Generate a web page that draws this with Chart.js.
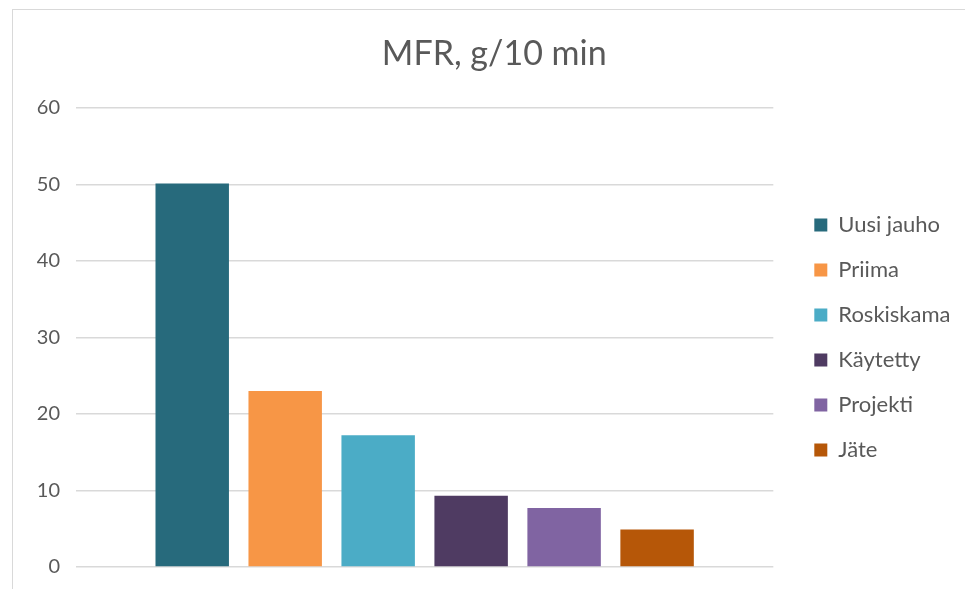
<!DOCTYPE html>
<html>
<head>
<meta charset="utf-8">
<script src="https://cdn.jsdelivr.net/npm/chart.js@4"></script>
<style>
    html, body { margin: 0; padding: 0; background: #fff; overflow: hidden; }
    #frame {
        position: absolute; left: 12px; top: 9px; width: 1000px; height: 700px;
        border-left: 1px solid #d9d9d9; border-top: 1px solid #d9d9d9;
    }
    #mfrChart { position: absolute; left: 0; top: 0; }
</style>
</head>
<body>
<div id="frame"></div>
<canvas id="mfrChart" width="965" height="589"></canvas>
<script>
// MFR chart data
const categories = [''];
const seriesNames = ['Uusi jauho', 'Priima', 'Roskiskama', 'Käytetty', 'Projekti', 'Jäte'];
const seriesValues = [50.1, 23.0, 17.2, 9.3, 7.7, 4.9];
const yTicks = [0, 10, 20, 30, 40, 50, 60];

const seriesColors = ['#276a7c', '#f79646', '#4bacc6', '#4f3b62', '#8064a2', '#b65708'];
const textColor = '#595959';

function renderMfrChart() {
    const ctx = document.getElementById('mfrChart').getContext('2d');

    const datasets = seriesNames.map((name, i) => ({
        label: name,
        data: [seriesValues[i]],
        backgroundColor: seriesColors[i],
        borderWidth: 0,
        categoryPercentage: 0.8,
        barPercentage: 0.79
    }));

    new Chart(ctx, {
        type: 'bar',
        data: {
            labels: categories,
            datasets: datasets
        },
        options: {
            responsive: false,
            animation: false,
            layout: {
                padding: { left: 28, right: 4.5, top: 34, bottom: 22 }
            },
            plugins: {
                title: {
                    display: true,
                    text: 'MFR, g/10 min',
                    color: textColor,
                    font: { family: 'Lato', size: 34, weight: 'normal' },
                    padding: { top: 0, bottom: 33 }
                },
                legend: {
                    position: 'right',
                    fullSize: false,
                    maxWidth: 300,
                    labels: {
                        boxWidth: 13,
                        boxHeight: 13,
                        padding: 23,
                        color: textColor,
                        font: { family: 'Lato', size: 22 }
                    }
                },
                tooltip: { enabled: false }
            },
            scales: {
                x: {
                    display: false
                },
                y: {
                    min: 0,
                    max: 60,
                    afterBuildTicks: function(scale) {
                        scale.ticks = yTicks.map(v => ({ value: v }));
                    },
                    afterFit: function(scale) {
                        scale.width = 48;
                        scale.paddingTop = 12;
                        scale.paddingBottom = 12;
                    },
                    grid: {
                        color: '#d9d9d9',
                        lineWidth: 1.5,
                        drawTicks: false
                    },
                    border: { display: false },
                    ticks: {
                        padding: 16,
                        color: textColor,
                        font: { family: 'Lato', size: 20 }
                    }
                },
                // empty axis, only keeps a gap between plot and legend
                gap: {
                    position: 'right',
                    display: true,
                    grid: { display: false },
                    border: { display: false },
                    ticks: { display: false },
                    afterFit: function(scale) {
                        scale.width = 18;
                    }
                }
            }
        }
    });
}

document.addEventListener('DOMContentLoaded', renderMfrChart);
</script>
</body>
</html>
